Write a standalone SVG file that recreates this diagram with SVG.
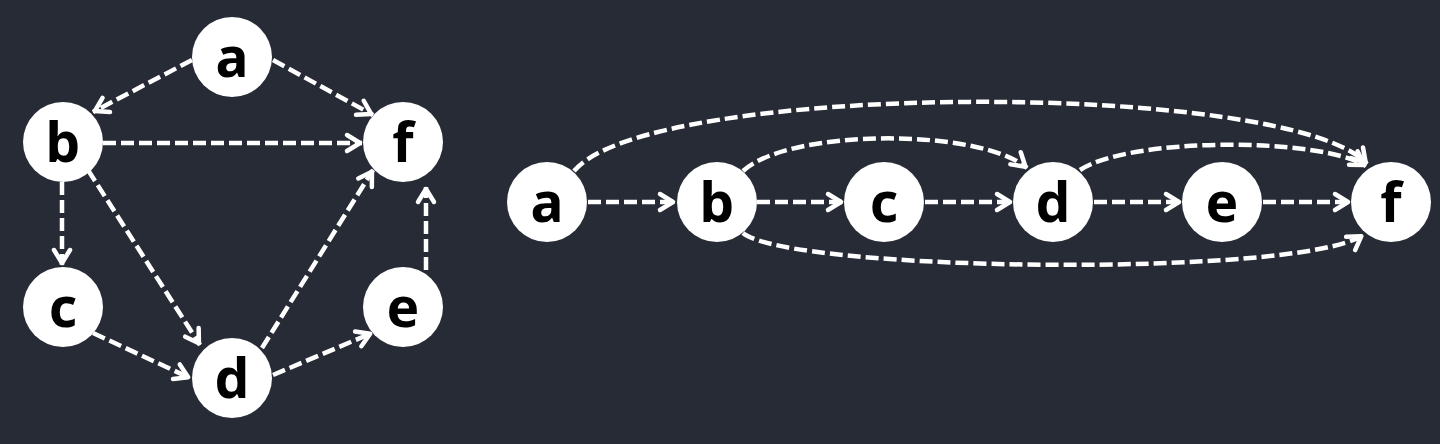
<svg xmlns="http://www.w3.org/2000/svg" width="1440" height="444" viewBox="0 0 1440 444">
<defs>
<marker id="arr" markerUnits="userSpaceOnUse" viewBox="-18 -12 22 24" markerWidth="22" markerHeight="24" refX="2" refY="0" orient="auto">
<path d="M-13,-8 L0,0 L-13,8" fill="none" stroke="#ffffff" stroke-width="4.5" stroke-linecap="round" stroke-linejoin="round"/>
</marker>
<style>
.e{fill:none;stroke:#ffffff;stroke-width:4.5;stroke-dasharray:13 5;marker-end:url(#arr)}
.n circle{fill:#ffffff}
.n text{font-family:"Noto Sans","Open Sans","DejaVu Sans",sans-serif;font-weight:bold;font-size:55px;fill:#000000;text-anchor:middle}
</style>
</defs>
<rect width="1440" height="444" fill="#272b36"/>
<g id="connectors">
<path class="e" d="M192,60 L93,112"/>
<path class="e" d="M273,60 L373,115"/>
<path class="e" d="M103,143 L362,143"/>
<path class="e" d="M62,182 L62,265"/>
<path class="e" d="M88,170 L200,345"/>
<path class="e" d="M93,333 L190,378"/>
<path class="e" d="M262,348 L373,170"/>
<path class="e" d="M273,375 L372,333"/>
<path class="e" d="M426,270 L426,187"/>
<path class="e" d="M588,202 L675,202"/>
<path class="e" d="M757,202 L843,202"/>
<path class="e" d="M925,202 L1012,202"/>
<path class="e" d="M1094,202 L1181,202"/>
<path class="e" d="M1263,202 L1350,202"/>
<path class="e" d="M574,171 C650,80 1292,80 1367,164"/>
<path class="e" d="M743,171 C790,128 980,128 1027,168"/>
<path class="e" d="M1080,170 C1130,137 1320,137 1366,166"/>
<path class="e" d="M743,233 C790,272 1300,278 1363,235"/>
</g>
<g id="L_a" class="n"><circle cx="232" cy="57" r="40"/><text x="232" y="77">a</text></g>
<g id="L_b" class="n"><circle cx="63" cy="142" r="40"/><text x="63" y="162">b</text></g>
<g id="L_f" class="n"><circle cx="403" cy="142" r="40"/><text x="403" y="162">f</text></g>
<g id="L_c" class="n"><circle cx="63" cy="307" r="40"/><text x="63" y="327">c</text></g>
<g id="L_e" class="n"><circle cx="403" cy="307" r="40"/><text x="403" y="327">e</text></g>
<g id="L_d" class="n"><circle cx="232" cy="378" r="40"/><text x="232" y="398">d</text></g>
<g id="R_a" class="n"><circle cx="547" cy="202" r="40"/><text x="547" y="222">a</text></g>
<g id="R_b" class="n"><circle cx="717" cy="202" r="40"/><text x="717" y="222">b</text></g>
<g id="R_c" class="n"><circle cx="884" cy="202" r="40"/><text x="884" y="222">c</text></g>
<g id="R_d" class="n"><circle cx="1053" cy="202" r="40"/><text x="1053" y="222">d</text></g>
<g id="R_e" class="n"><circle cx="1222" cy="202" r="40"/><text x="1222" y="222">e</text></g>
<g id="R_f" class="n"><circle cx="1391" cy="202" r="40"/><text x="1391" y="222">f</text></g>
</svg>
